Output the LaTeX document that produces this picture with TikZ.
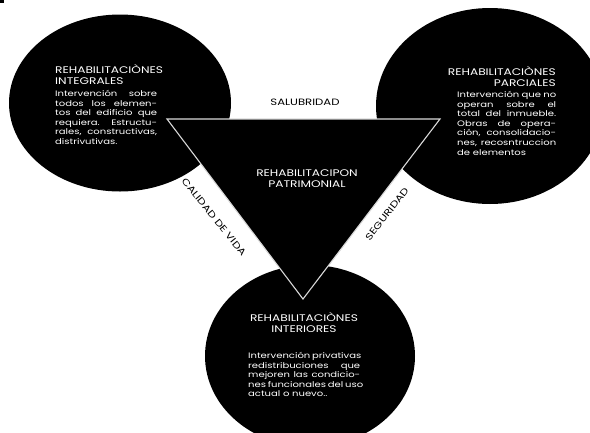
\documentclass[tikz,border=0pt]{standalone}
\usepackage{fontspec}
\setmainfont{Poppins}[FakeStretch=1.27]
\usetikzlibrary{shapes.geometric}
\begin{document}
\begin{tikzpicture}[x=1pt,y=-1pt,
  blob/.style={ellipse, fill=black, inner sep=0pt},
  ttl/.style={text=white, font=\fontsize{9.6}{11}\selectfont, inner sep=0pt},
  body/.style={text=white, font=\fontsize{7.9}{9.6}\selectfont, inner sep=0pt},
  edgelbl/.style={text=black, font=\fontsize{9.2}{11}\selectfont, inner sep=0pt},
  tri/.style={draw=white!85!black, line width=1.1pt, fill=black, line join=miter}]
\useasboundingbox (0,0) rectangle (590,432);
\fill (0,0) rectangle (4,3);
% circles
\node[blob, minimum width=222pt, minimum height=177pt] (cl) at (120,103) {};
\node[blob, minimum width=228pt, minimum height=196pt] (cr) at (490,106) {};
\node[blob, minimum width=210pt, minimum height=182pt] (cb) at (310,356) {};
% triangle
\coordinate (ta) at (167,119);
\coordinate (tb) at (440,119);
\coordinate (tc) at (303,299);
\draw[tri] (ta) -- (tb) -- (tc) -- cycle;
% left circle texts
\node[ttl, anchor=north west, align=left] (tl) at (55,64) {REHABILITACIÒNES\\INTEGRALES};
\node[body, anchor=north west, align=left] (bl) at (55,90) {%
\makebox[102pt][s]{Intervención sobre}\\
\makebox[102pt][s]{todos los elemen-}\\
\makebox[102pt][s]{tos del edificio que}\\
\makebox[102pt][s]{requiera. Estructu-}\\
\makebox[102pt][s]{rales, constructivas,}\\
distrivutivas.};
% right circle texts
\node[ttl, anchor=north east, align=right] (tr) at (556,66) {REHABILITACIÒNES\\PARCIALES};
\node[body, anchor=north west, align=left] (br) at (457,91) {%
\makebox[99pt][s]{Intervención que no}\\
\makebox[99pt][s]{operan sobre el}\\
\makebox[99pt][s]{total del inmueble.}\\
\makebox[99pt][s]{Obras de opera-}\\
\makebox[99pt][s]{ción, consolidacio-}\\
\makebox[99pt][s]{nes, recosntruccion}\\
de elementos};
% bottom circle texts
\node[ttl, anchor=north, align=center] (tbm) at (304,312) {REHABILITACIÒNES\\INTERIORES};
\node[body, anchor=north west, align=left] (bb) at (248,352) {%
\makebox[112pt][s]{Intervención privativas}\\
\makebox[112pt][s]{redistribuciones que}\\
\makebox[112pt][s]{mejoren las condicio-}\\
\makebox[112pt][s]{nes funcionales del uso}\\
actual o nuevo..};
% triangle text
\node[ttl, align=center] (tt) at (307,179) {REHABILITACIPON\\PATRIMONIAL};
% edge labels
\node[edgelbl] (ls) at (305,102) {SALUBRIDAD};
\node[edgelbl, rotate=-51] (lc) at (214,217) {CALIDAD DE VIDA};
\node[edgelbl, rotate=52] (lg) at (387,214) {SEGURIDAD};
\end{tikzpicture}
\end{document}
